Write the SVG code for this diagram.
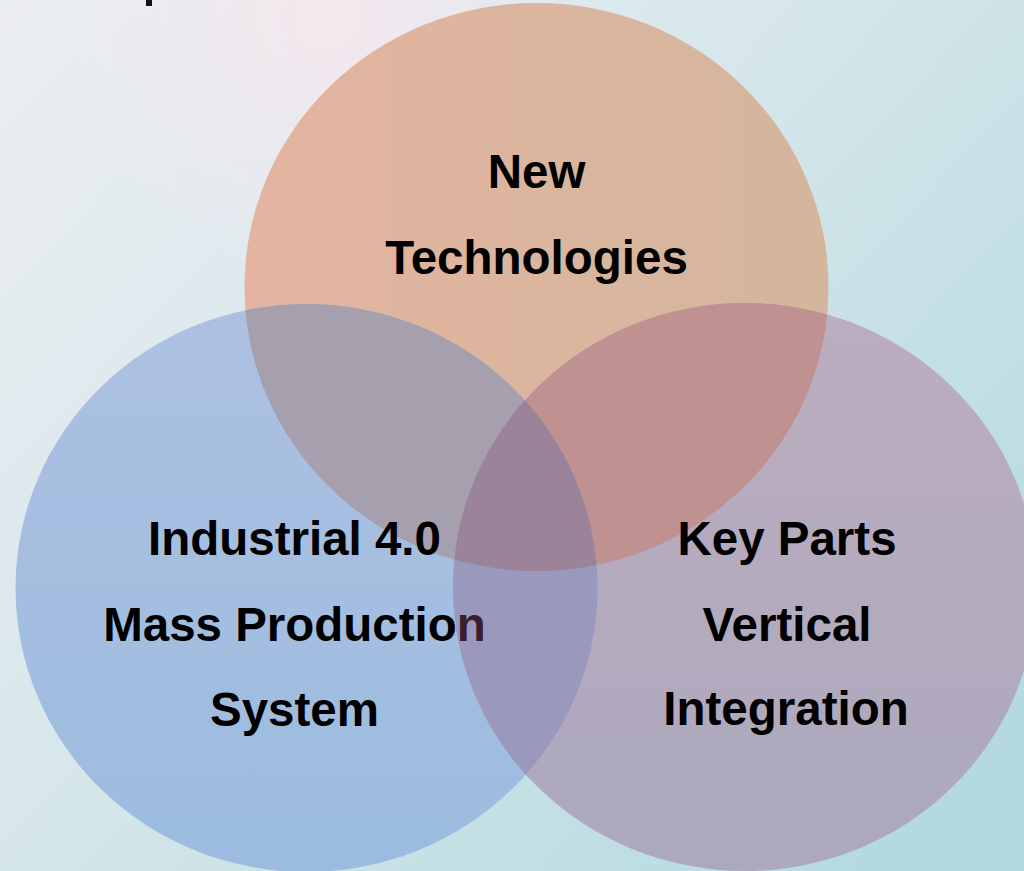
<svg xmlns="http://www.w3.org/2000/svg" width="1024" height="871" viewBox="0 0 1024 871">
  <defs>
    <linearGradient id="bg" x1="0" y1="0" x2="1" y2="0.8">
      <stop offset="0" stop-color="#eceef2"/>
      <stop offset="0.45" stop-color="#d8e7eb"/>
      <stop offset="1" stop-color="#b4dae0"/>
    </linearGradient>
    <radialGradient id="pink" cx="330" cy="20" r="260" gradientUnits="userSpaceOnUse">
      <stop offset="0" stop-color="#f6e8ee" stop-opacity="0.9"/>
      <stop offset="1" stop-color="#f6e8ee" stop-opacity="0"/>
    </radialGradient>
    <linearGradient id="gT" x1="0" y1="0" x2="1" y2="0">
      <stop offset="0" stop-color="#e4b4a0"/>
      <stop offset="1" stop-color="#d3b69c"/>
    </linearGradient>
    <linearGradient id="gL" x1="0" y1="0" x2="0" y2="1">
      <stop offset="0" stop-color="#adc0e2"/>
      <stop offset="1" stop-color="#9bbcdf"/>
    </linearGradient>
    <linearGradient id="gR" x1="0" y1="0" x2="0" y2="1">
      <stop offset="0" stop-color="#bcadbf"/>
      <stop offset="1" stop-color="#aca8bd"/>
    </linearGradient>
    <clipPath id="cT"><ellipse cx="536.5" cy="287" rx="292" ry="284"/></clipPath>
    <clipPath id="cL"><ellipse cx="306.5" cy="588" rx="291" ry="284"/></clipPath>
    <clipPath id="cR"><ellipse cx="745" cy="587" rx="292" ry="284"/></clipPath>
    <style>
      .lbl { font-family: "Liberation Sans", Arial, sans-serif; font-weight: bold; font-size: 47.5px; fill: #000; text-anchor: middle; }
    </style>
  </defs>

  <rect x="0" y="0" width="1024" height="871" fill="url(#bg)"/>
  <rect x="0" y="0" width="1024" height="871" fill="url(#pink)"/>
  <rect x="146" y="0" width="6" height="6" fill="#111"/>

  <g id="circles">
    <ellipse cx="536.5" cy="287" rx="292" ry="284" fill="url(#gT)"/>
    <ellipse cx="306.5" cy="588" rx="291" ry="284" fill="url(#gL)"/>
    <ellipse cx="745" cy="587" rx="292" ry="284" fill="url(#gR)"/>
    <ellipse cx="306.5" cy="588" rx="291" ry="284" fill="#a59fae" clip-path="url(#cT)"/>
    <ellipse cx="745" cy="587" rx="292" ry="284" fill="#bf9191" clip-path="url(#cT)"/>
    <ellipse cx="745" cy="587" rx="292" ry="284" fill="#9b98bd" clip-path="url(#cL)"/>
    <g clip-path="url(#cT)">
      <ellipse cx="745" cy="587" rx="292" ry="284" fill="#9b8399" clip-path="url(#cL)"/>
    </g>
  </g>

  <g id="node-new-technologies">
    <text class="lbl" x="536.5" y="188">New</text>
    <text class="lbl" x="536.5" y="274">Technologies</text>
  </g>

  <g id="node-industrial">
    <text class="lbl" x="294.5" y="555">Industrial 4.0</text>
    <text class="lbl" x="294.5" y="641">Mass Productio<tspan fill="#3b1d2c">n</tspan></text>
    <text class="lbl" x="294.5" y="726">System</text>
  </g>

  <g id="node-key-parts">
    <text class="lbl" x="787" y="555">Key Parts</text>
    <text class="lbl" x="787" y="641">Vertical</text>
    <text class="lbl" x="786" y="725">Integration</text>
  </g>

  <g id="connectors"></g>
</svg>
